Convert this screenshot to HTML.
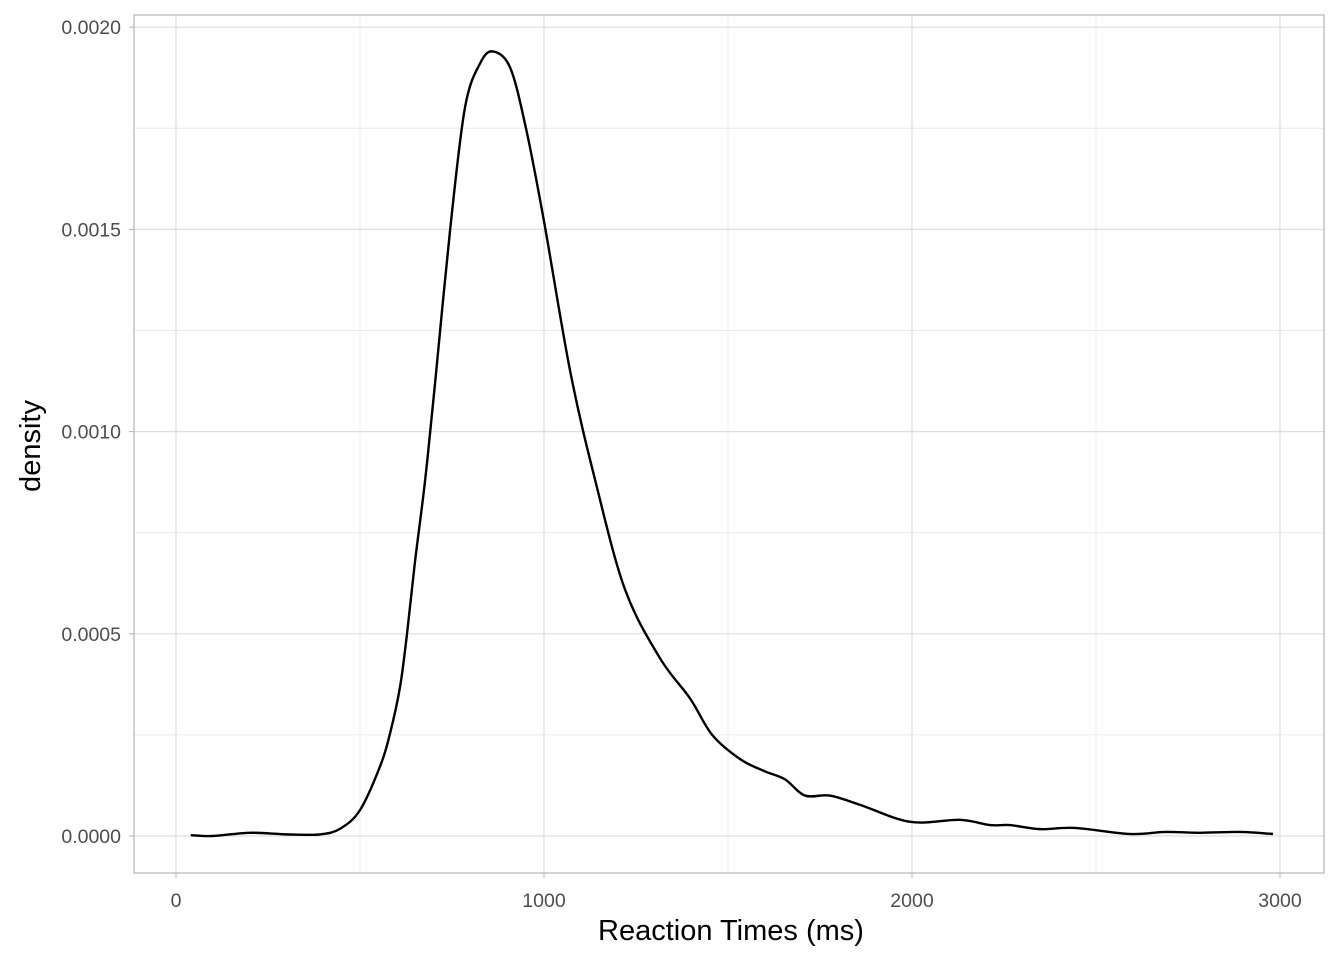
<!DOCTYPE html>
<html><head><meta charset="utf-8"><style>
body{margin:0;background:#fff;}
svg{display:block;font-family:"Liberation Sans",Arial,sans-serif;}
</style></head><body>
<svg id="chart" width="1344" height="960" viewBox="0 0 1344 960"></svg>
<script>
const xTicks=[0,1000,2000,3000];
const xMinor=[500,1500,2500];
const yTicks=[0,0.0005,0.001,0.0015,0.002];
const yTickLabels=["0.0000","0.0005","0.0010","0.0015","0.0020"];
const yMinor=[0.00025,0.00075,0.00125,0.00175];
const rtValues=[40,100,200,300,391,446,500,554,582,609,628,649,677,704,745,785,826,861,908,951,1000,1071,1139,1220,1315,1397,1457,1533,1600,1655,1709,1777,1859,1995,2130,2212,2266,2348,2443,2592,2688,2783,2891,2981];
const densityValues=[0.000002,0.0,0.000008,0.000004,0.000004,0.000018,0.000064,0.000171,0.000255,0.00037,0.000502,0.000675,0.00088,0.00112,0.0015,0.0018,0.00191,0.00194,0.0019,0.00175,0.00152,0.00115,0.00088,0.00061,0.00044,0.00034,0.00025,0.00019,0.00016,0.00014,0.0001,0.0001,0.000077,0.000035,0.00004,0.000027,0.000027,0.000017,0.00002,0.000005,0.00001,0.000008,0.00001,0.000005];
const NS="http://www.w3.org/2000/svg";
const svg=document.getElementById('chart');
const L=134,R=1324,T=15,B=873;
const X=v=>176+v*0.368;
const Y=v=>836-v*404400;
function mk(tag,attrs,parent){const e=document.createElementNS(NS,tag);for(const k in attrs)e.setAttribute(k,attrs[k]);(parent||svg).appendChild(e);return e;}
for(const v of xMinor){const l=mk('line',{x1:X(v),x2:X(v),y1:T,y2:B,stroke:'#ebebeb','stroke-width':1});

}
for(const v of yMinor){const l=mk('line',{x1:L,x2:R,y1:Y(v),y2:Y(v),stroke:'#ebebeb','stroke-width':1});

}
xTicks.forEach(v=>{const l=mk('line',{x1:X(v),x2:X(v),y1:T,y2:B,stroke:'#dedede','stroke-width':1.2});


mk('line',{x1:X(v),x2:X(v),y1:B,y2:B+5,stroke:'#b3b3b3','stroke-width':1});
const t=mk('text',{x:X(v),y:B+34,'text-anchor':'middle','font-size':19.5,fill:'#4d4d4d'});t.textContent=v;

});
yTicks.forEach((v,i)=>{const l=mk('line',{x1:L,x2:R,y1:Y(v),y2:Y(v),stroke:'#dedede','stroke-width':1.2});


mk('line',{x1:L-5,x2:L,y1:Y(v),y2:Y(v),stroke:'#b3b3b3','stroke-width':1});
const t=mk('text',{x:L-13,y:Y(v)+7,'text-anchor':'end','font-size':19.5,fill:'#4d4d4d'});t.textContent=yTickLabels[i];

});
const fr=mk('rect',{x:L,y:T,width:R-L,height:B-T,fill:'none',stroke:'#b3b3b3','stroke-width':1.2});


const P=rtValues.map((v,i)=>[X(v),Y(densityValues[i])]);
let d=`M${P[0][0]},${P[0][1]}`;
for(let i=0;i<P.length-1;i++){const p0=P[Math.max(i-1,0)],p1=P[i],p2=P[i+1],p3=P[Math.min(i+2,P.length-1)];
d+=` C${p1[0]+(p2[0]-p0[0])/6},${p1[1]+(p2[1]-p0[1])/6} ${p2[0]-(p3[0]-p1[0])/6},${p2[1]-(p3[1]-p1[1])/6} ${p2[0]},${p2[1]}`;}
const path=mk('path',{d:d,fill:'none',stroke:'#000','stroke-width':2.4});


const xt=mk('text',{x:731,y:940,'text-anchor':'middle','font-size':29,fill:'#000'});xt.textContent='Reaction Times (ms)';


const yt=mk('text',{x:0,y:0,'text-anchor':'middle','font-size':29,fill:'#000',transform:'translate(40,446) rotate(-90)'});yt.textContent='density';


</script>
</body></html>
